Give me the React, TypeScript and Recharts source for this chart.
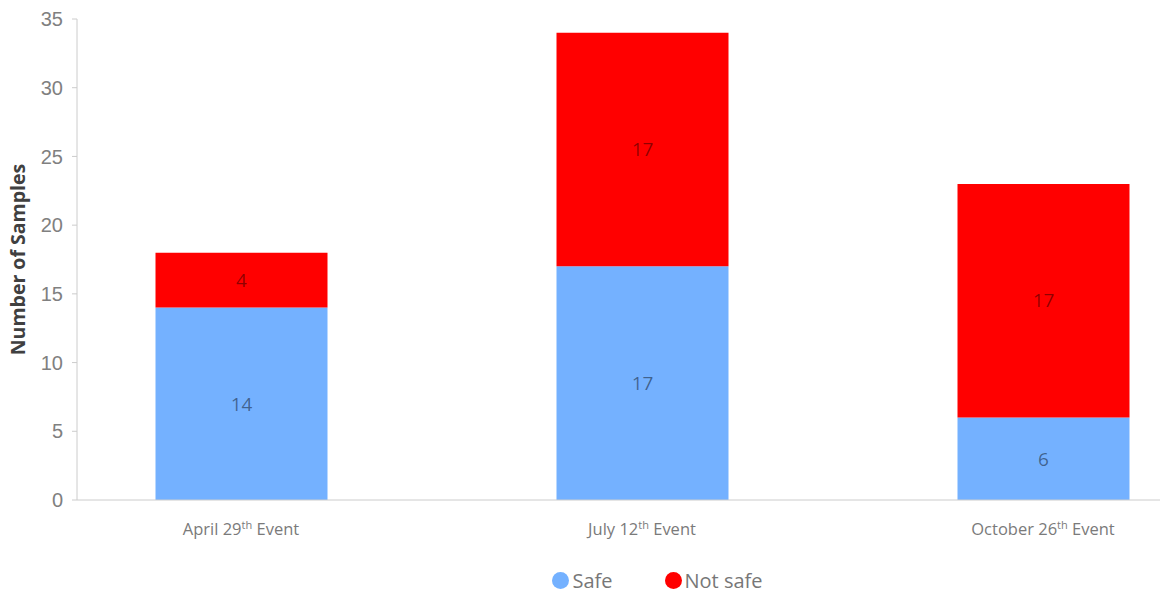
import React from 'react';
import { BarChart, Bar, XAxis, YAxis, Legend, LabelList } from 'recharts';

const categories = ['April 29', 'July 12', 'October 26'];
const safeValues = [14, 17, 6];
const notSafeValues = [4, 17, 17];
const yTicks = [0, 5, 10, 15, 20, 25, 30, 35];

const data = categories.map((c, i) => ({ name: c, safe: safeValues[i], notSafe: notSafeValues[i] }));

const BLUE = '#74b1ff';
const RED = '#ff0000';

const XTick = (props: any) => {
  const { x, y, payload } = props;
  return (
    <text x={x} y={y + 27} textAnchor="middle" fontFamily="'Open Sans', sans-serif" fontSize={16.5} fill="#7a7a7a">
      <tspan>{payload.value}</tspan>
      <tspan dy={-6} fontSize={11}>th</tspan>
      <tspan dy={6}> Event</tspan>
    </text>
  );
};

const LegendContent = () => (
  <div style={{ display: 'flex', justifyContent: 'center', alignItems: 'center', fontFamily: "'Open Sans', sans-serif", fontSize: 20, color: '#777', paddingLeft: 155, paddingTop: 4 }}>
    <span style={{ display: 'inline-flex', alignItems: 'center', marginRight: 52 }}>
      <span style={{ width: 17, height: 17, borderRadius: 9, background: BLUE, display: 'inline-block', marginRight: 3 }} />
      Safe
    </span>
    <span style={{ display: 'inline-flex', alignItems: 'center' }}>
      <span style={{ width: 17, height: 17, borderRadius: 9, background: RED, display: 'inline-block', marginRight: 3 }} />
      Not safe
    </span>
  </div>
);

export default function App() {
  return (
    <div style={{ position: 'absolute', left: 0, top: 0, background: '#fff' }}>
      <BarChart width={1164} height={593} data={data} margin={{ top: 19, right: 4, left: 0, bottom: 0 }} barSize={172}>
        <YAxis
          width={77}
          domain={[0, 35]}
          ticks={yTicks}
          interval={0}
          tickSize={5}
          tickMargin={9}
          axisLine={{ stroke: '#cccccc' }}
          tickLine={{ stroke: '#cccccc' }}
          tick={{ fontFamily: "'Liberation Sans', Arial, sans-serif", fontSize: 20, fill: '#808080' }}
          label={{ value: 'Number of Samples', angle: -90, position: 'center', dx: -20, style: { fontFamily: "'Open Sans', sans-serif", fontWeight: 700, fontSize: 19.5, fill: '#404040' } }}
        />
        <XAxis
          dataKey="name"
          height={63}
          padding={{ left: -36.5, right: -83.5 }}
          axisLine={{ stroke: '#cccccc' }}
          tickLine={false}
          tick={<XTick />}
          interval={0}
        />
        <Legend verticalAlign="bottom" height={30} content={<LegendContent />} />
        <Bar dataKey="safe" stackId="a" fill={BLUE} isAnimationActive={false}>
          <LabelList dataKey="safe" position="center" style={{ fontFamily: "'Open Sans', sans-serif", fontSize: 19, fill: '#000', fillOpacity: 0.45 }} />
        </Bar>
        <Bar dataKey="notSafe" stackId="a" fill={RED} isAnimationActive={false}>
          <LabelList dataKey="notSafe" position="center" style={{ fontFamily: "'Open Sans', sans-serif", fontSize: 19, fill: '#000', fillOpacity: 0.45 }} />
        </Bar>
      </BarChart>
    </div>
  );
}
